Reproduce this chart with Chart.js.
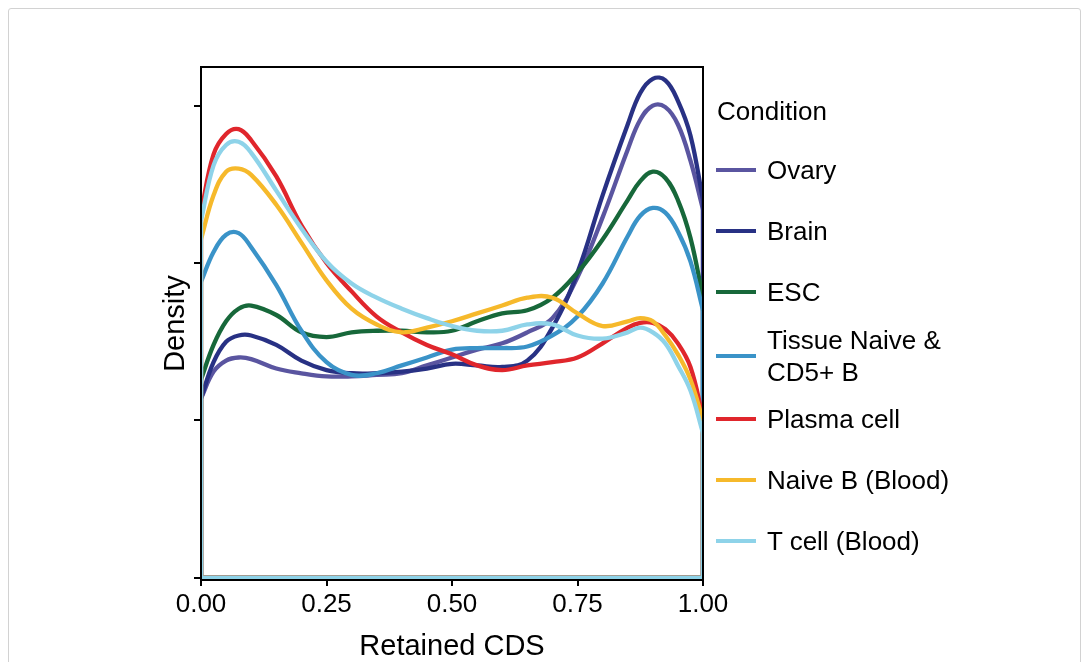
<!DOCTYPE html>
<html>
<head>
<meta charset="utf-8">
<script src="https://cdn.jsdelivr.net/npm/chart.js@4.4.1/dist/chart.umd.min.js"></script>
<style>
  body { margin: 0; background: #fff; overflow: hidden; }
  #wrap { position: relative; width: 1089px; height: 662px; font-family: Helvetica, "Liberation Sans", Arial, sans-serif; }
  #frame { position: absolute; left: 8px; top: 8px; width: 1071px; height: 700px; border: 1.5px solid #d2d2d2; border-radius: 3px; }
  #myChart { position: absolute; left: 0; top: 0; }
  #legendTitle { position: absolute; left: 717px; top: 95px; font-size: 26px; line-height: 32px; color: #000; }
  #legend { position: absolute; left: 716px; top: 139.5px; }
  .item { display: flex; align-items: center; height: 61px; }
  .item.tall { height: 66px; }
  .swatch { width: 40px; height: 4px; margin-right: 11px; }
  .label { font-size: 26px; line-height: 32px; color: #000; white-space: pre; }
</style>
</head>
<body>
<div id="wrap">
  <div id="frame"></div>
  <canvas id="myChart" width="1089" height="662"></canvas>
  <div id="legendTitle">Condition</div>
  <div id="legend"></div>
</div>
<script>
// Retained CDS positions where the densities were read
const xs = [0, 0.025, 0.05, 0.075, 0.1, 0.15, 0.2, 0.25, 0.3, 0.35, 0.4, 0.45, 0.5,
            0.55, 0.6, 0.65, 0.7, 0.75, 0.8, 0.85, 0.875, 0.9, 0.925, 0.95, 0.975, 1];

const conditions = ["Ovary", "Brain", "ESC", "Tissue Naive &\nCD5+ B", "Plasma cell", "Naive B (Blood)", "T cell (Blood)"];
const colors = ["#5a55a0", "#283184", "#17683a", "#3a93c8", "#e0262c", "#f6b92b", "#8ed3e9"];

const ovary   = [1.14, 1.31, 1.38, 1.40, 1.39, 1.33, 1.30, 1.28, 1.28, 1.29, 1.30, 1.35, 1.40,
                 1.45, 1.49, 1.56, 1.65, 1.91, 2.29, 2.72, 2.91, 3.00, 2.99, 2.88, 2.65, 2.34];
const brain   = [1.14, 1.37, 1.50, 1.54, 1.54, 1.48, 1.38, 1.32, 1.30, 1.30, 1.31, 1.33, 1.36,
                 1.35, 1.34, 1.38, 1.59, 1.94, 2.43, 2.88, 3.08, 3.17, 3.16, 3.03, 2.81, 2.40];
const esc     = [1.26, 1.48, 1.63, 1.71, 1.73, 1.67, 1.56, 1.53, 1.56, 1.57, 1.57, 1.56, 1.57,
                 1.63, 1.68, 1.70, 1.78, 1.94, 2.15, 2.40, 2.52, 2.58, 2.54, 2.40, 2.16, 1.78];
const tissue  = [1.88, 2.07, 2.18, 2.19, 2.10, 1.86, 1.57, 1.37, 1.29, 1.30, 1.35, 1.40, 1.45,
                 1.46, 1.46, 1.47, 1.54, 1.66, 1.87, 2.17, 2.30, 2.35, 2.32, 2.20, 2.01, 1.70];
const plasma  = [2.32, 2.69, 2.82, 2.85, 2.78, 2.55, 2.24, 2.00, 1.82, 1.66, 1.56, 1.48, 1.42,
                 1.35, 1.32, 1.35, 1.37, 1.40, 1.49, 1.59, 1.62, 1.62, 1.58, 1.49, 1.34, 1.02];
const naiveB  = [2.15, 2.43, 2.58, 2.60, 2.56, 2.37, 2.13, 1.89, 1.71, 1.61, 1.56, 1.59, 1.63,
                 1.68, 1.73, 1.78, 1.78, 1.68, 1.60, 1.63, 1.65, 1.63, 1.54, 1.42, 1.26, 1.00];
const tcell   = [2.27, 2.62, 2.75, 2.77, 2.70, 2.46, 2.22, 2.01, 1.87, 1.78, 1.71, 1.65, 1.60,
                 1.57, 1.57, 1.61, 1.61, 1.54, 1.52, 1.56, 1.59, 1.56, 1.49, 1.35, 1.19, 0.92];

const series = [ovary, brain, esc, tissue, plasma, naiveB, tcell];
const xTicks = [0, 0.25, 0.5, 0.75, 1];
const yTicks = [0, 1, 2, 3];

let datasets = [];
series.forEach(function(vals, i) {
    let order = series.length - i; // later conditions on top, like ggplot
    datasets.push({
        label: conditions[i],
        data: xs.map((x, j) => ({x: x, y: vals[j]})),
        borderColor: colors[i],
        borderWidth: 4.3,
        pointRadius: 0,
        fill: false,
        tension: 0.4,
        borderJoinStyle: 'round',
        order: order
    });
    // density outline: drop to zero at both ends and run along the baseline
    datasets.push({
        label: conditions[i] + ' outline',
        data: [{x: xs[0], y: vals[0]}, {x: xs[0], y: 0}, {x: xs[xs.length - 1], y: 0}, {x: xs[xs.length - 1], y: vals[vals.length - 1]}],
        borderColor: colors[i],
        borderWidth: 4.3,
        pointRadius: 0,
        fill: false,
        tension: 0,
        order: order
    });
});

const panelBorder = {
    id: 'panelBorder',
    afterDatasetsDraw(chart) {
        const a = chart.chartArea;
        const ctx = chart.ctx;
        ctx.save();
        ctx.strokeStyle = '#000';
        ctx.lineWidth = 2;
        ctx.strokeRect(a.left, a.top, a.right - a.left, a.bottom - a.top);
        ctx.restore();
    }
};

const font = 'Helvetica, "Liberation Sans", Arial, sans-serif';

new Chart("myChart", {
    type: 'line',
    data: { datasets: datasets },
    plugins: [panelBorder],
    options: {
        responsive: false,
        animation: false,
        layout: { padding: { left: 0, top: 67, right: 386, bottom: 0 } },
        plugins: { legend: { display: false }, tooltip: { enabled: false } },
        scales: {
            x: {
                type: 'linear',
                min: 0,
                max: 1,
                afterFit: function(scale) { scale.height = 82; },
                afterBuildTicks: function(scale) { scale.ticks = xTicks.map(v => ({value: v})); },
                ticks: {
                    color: '#000',
                    font: { family: font, size: 26 },
                    padding: 3,
                    maxRotation: 0,
                    callback: v => v.toFixed(2)
                },
                grid: { drawOnChartArea: false, drawTicks: true, tickLength: 6, color: '#000', lineWidth: 2 },
                border: { display: true, color: '#000', width: 2 },
                title: {
                    display: true,
                    text: 'Retained CDS',
                    color: '#000',
                    font: { family: font, size: 29, lineHeight: 1 },
                    padding: { top: 0, bottom: 0.5 }
                }
            },
            y: {
                min: -0.013,
                max: 3.245,
                afterFit: function(scale) { scale.width = 201; },
                afterBuildTicks: function(scale) { scale.ticks = yTicks.map(v => ({value: v})); },
                ticks: { display: false },
                grid: { drawOnChartArea: false, drawTicks: true, tickLength: 7, color: '#000', lineWidth: 2 },
                border: { display: true, color: '#000', width: 2 },
                title: {
                    display: true,
                    text: 'Density',
                    color: '#000',
                    font: { family: font, size: 29, lineHeight: 1 },
                    padding: { top: 161.5, bottom: 0 }
                }
            }
        }
    }
});

// legend, one line swatch per condition
let legend = document.getElementById('legend');
conditions.forEach(function(name, i) {
    let item = document.createElement('div');
    item.className = name.indexOf('\n') >= 0 ? 'item tall' : 'item';
    let sw = document.createElement('div');
    sw.className = 'swatch';
    sw.style.background = colors[i];
    let lab = document.createElement('div');
    lab.className = 'label';
    lab.textContent = name;
    item.appendChild(sw);
    item.appendChild(lab);
    legend.appendChild(item);
});
</script>
</body>
</html>
